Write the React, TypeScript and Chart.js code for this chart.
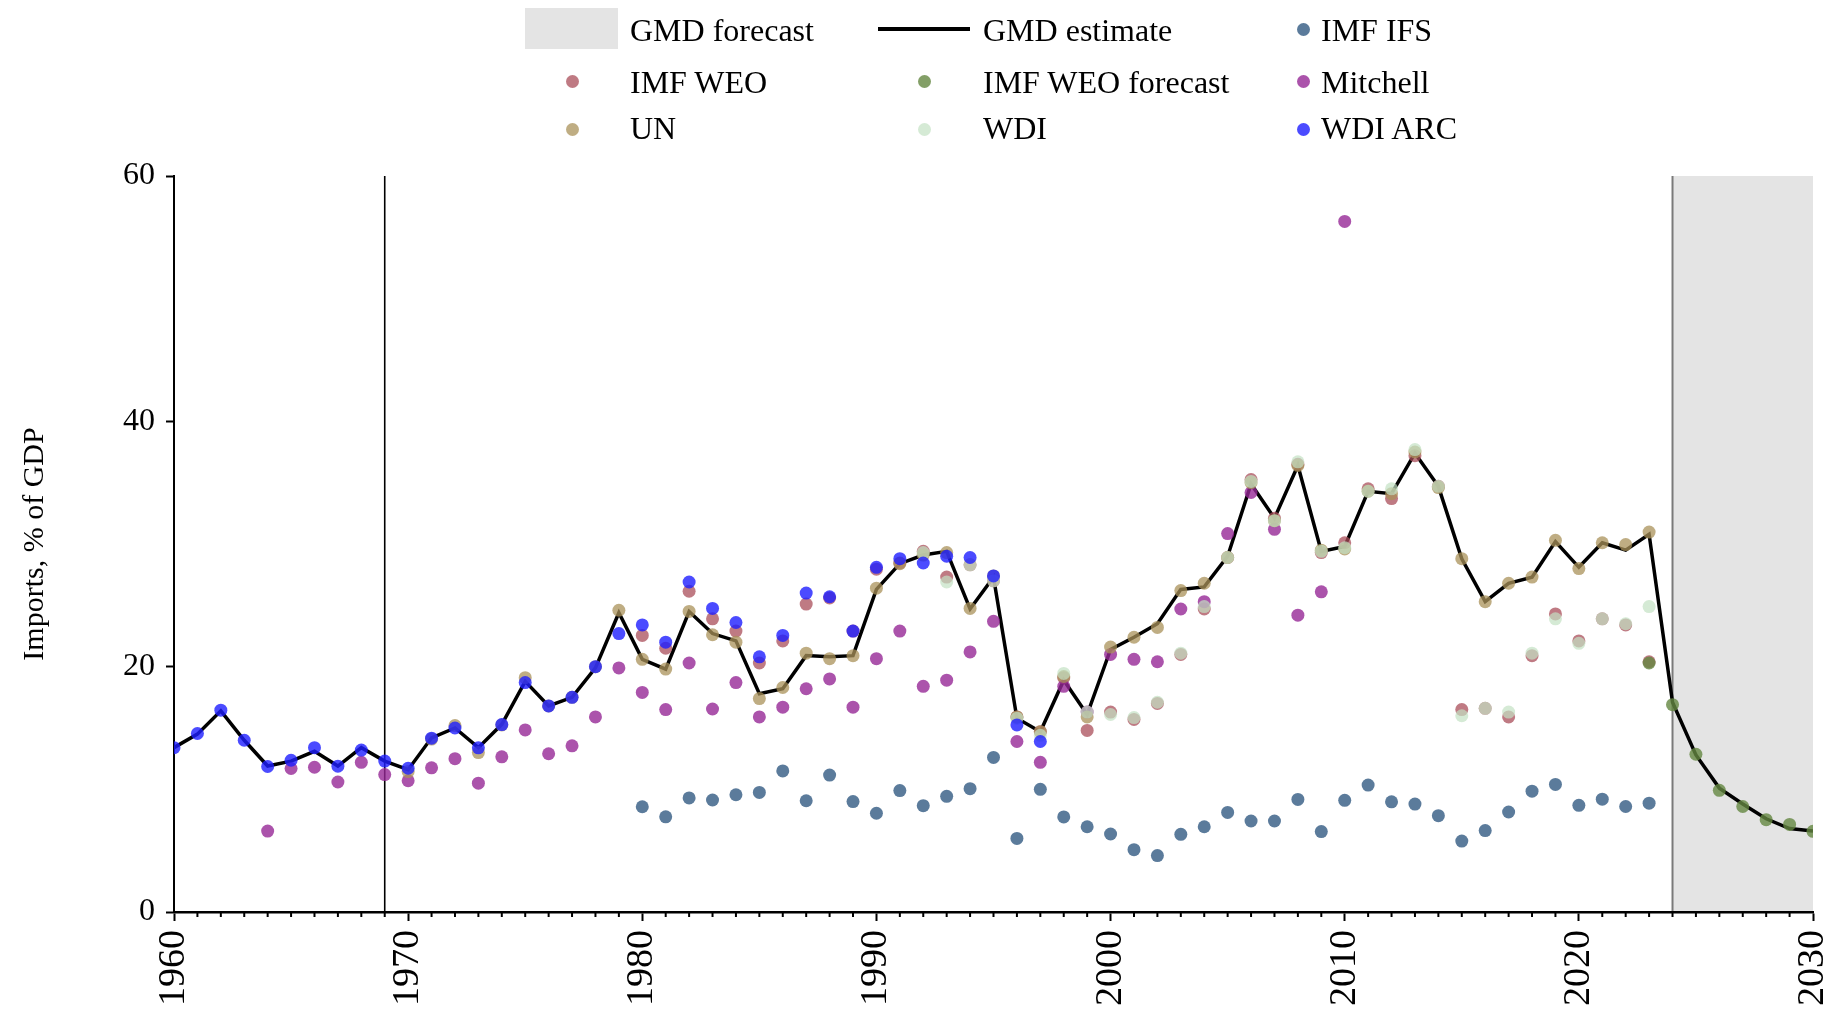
import React, { useEffect, useRef } from 'react';
import { Chart, registerables } from 'chart.js';

Chart.register(...registerables);

// ---------- data ----------
const X_MIN = 1960;
const X_MAX = 2030;
const FORECAST_START = 2024;
const MARK_YEAR = 1969;
const xTickLabels = ['1960', '1970', '1980', '1990', '2000', '2010', '2020', '2030'];
const yTickLabels = ['0', '20', '40', '60'];

const gmdStart = 1960;
const gmdEstimate = [
  13.4, 14.5, 16.4, 14.0, 11.9, 12.3, 13.1, 11.9, 13.4, 12.3,
  11.6, 14.2, 15.0, 13.4, 15.3, 18.8, 16.8, 17.5, 19.9, 24.4,
  20.6, 19.8, 24.5, 22.7, 22.1, 17.8, 18.2, 20.9, 20.8, 20.9,
  26.3, 28.4, 29.1, 29.4, 24.7, 27.3, 15.8, 14.7, 18.9, 16.1,
  21.4, 22.4, 23.5, 26.3, 26.5, 29.0, 34.9, 32.1, 36.4, 29.4,
  29.8, 34.3, 34.1, 37.4, 34.7, 28.8, 25.3, 26.8, 27.3, 30.2,
  28.1, 30.1, 29.5, 30.8, 17.1, 12.8, 10.1, 8.8, 7.6, 6.8,
  6.6,
];

const ifsStart = 1980;
const imfIfs = [
  8.58, 7.76, 9.3, 9.13, 9.56, 9.75, 11.5, 9.07, 11.16, 9.0,
  8.05, 9.9, 8.67, 9.43, 10.05, 12.6, 6.0, 10.0, 7.75, 6.95,
  6.36, 5.08, 4.6, 6.33, 6.95, 8.12, 7.42, 7.42, 9.18, 6.56,
  9.1, 10.35, 8.98, 8.8, 7.85, 5.78, 6.64, 8.15, 9.85, 10.4,
  8.7, 9.2, 8.6, 8.87,
];

const weoStart = 1980;
const imfWeo = [
  22.55, 21.5, 26.15, 23.9, 22.9, 20.3, 22.1, 25.1, 25.6, 22.9,
  27.95, 28.45, 29.4, 27.3, 28.3, 27.0, 15.9, 14.7, 19.1, 14.8,
  16.3, 15.7, 17.0, 21.0, 24.7, 28.9, 35.26, 32.1, 36.5, 29.3,
  30.1, 34.5, 33.7, 37.2, 34.7, 16.5, 16.6, 15.9, 20.9, 24.3,
  22.1, 23.9, 23.4, 20.4,
];

const weoForecastStart = 2023;
const imfWeoForecast = [20.3, 16.9, 12.86, 9.92, 8.6, 7.53, 7.14, 6.58];

const mitchellStart = 1964;
const mitchell = [
  6.6, 11.7, 11.8, 10.6, 12.2, 11.2, 10.7, 11.75, 12.5, 10.5,
  12.65, 14.84, 12.9, 13.55, 15.9, 19.9, 17.9, 16.5, 20.3, 16.55,
  18.7, 15.9, 16.7, 18.2, 19.0, 16.7, 20.65, 22.9, 18.4, 18.9,
  21.2, 23.7, 13.9, 12.2, 18.4, 16.3, 21.0, 20.6, 20.4, 24.7,
  25.3, 30.85, 34.2, 31.2, 24.2, 26.1, 56.3,
];

const unStart = 1970;
const un = [
  11.45, 14.1, 15.2, 13.0, 15.25, 19.1, 16.8, 17.5, 20.0, 24.6,
  20.6, 19.8, 24.5, 22.6, 22.0, 17.4, 18.3, 21.1, 20.65, 20.9,
  26.4, 28.4, 29.1, 29.3, 24.75, 27.4, 15.9, 14.7, 19.2, 15.9,
  21.6, 22.4, 23.2, 26.2, 26.8, 28.9, 35.0, 31.9, 36.4, 29.5,
  29.6, 34.3, 34.1, 37.5, 34.6, 28.8, 25.3, 26.8, 27.3, 30.3,
  28.0, 30.1, 29.95, 30.97,
];

const wdiStart = 1992;
const wdi = [
  29.3, 26.9, 28.3, 27.0, 15.8, 14.4, 19.45, 16.3, 16.1, 15.85,
  17.1, 21.1, 24.9, 28.9, 35.1, 31.9, 36.7, 29.4, 29.7, 34.3,
  34.5, 37.7, 34.7, 16.0, 16.6, 16.3, 21.1, 23.9, 21.9, 23.9,
  23.5, 24.9,
];

const wdiArcStart = 1960;
const wdiArc = [
  13.4, 14.55, 16.45, 14.0, 11.86, 12.37, 13.4, 11.89, 13.2, 12.3,
  11.72, 14.17, 15.0, 13.38, 15.28, 18.7, 16.8, 17.5, 20.0, 22.7,
  23.4, 22.0, 26.9, 24.75, 23.6, 20.8, 22.55, 26.0, 25.7, 22.9,
  28.1, 28.8, 28.45, 29.0, 28.9, 27.4, 15.25, 13.9,
];

// ---------- styles ----------
const C_IFS = 'rgba(62,100,138,0.85)';
const C_WEO = 'rgba(170,78,90,0.75)';
const C_WEOF = 'rgba(100,135,65,0.8)';
const C_MITCHELL = 'rgba(150,40,150,0.8)';
const C_UN = 'rgba(170,145,90,0.75)';
const C_WDI = 'rgba(195,225,195,0.7)';
const C_WDIARC = 'rgba(30,30,255,0.8)';
const SERIF = "'Liberation Serif', 'Times New Roman', serif";

const toPoints = (start: number, vals: number[]) =>
  vals.map((v, i) => ({ x: start + i, y: v }));

const bgPlugin = {
  id: 'bgPlugin',
  beforeDraw(chart: any) {
    const { ctx, chartArea, scales } = chart;
    const x = scales.x;
    const xf = x.getPixelForValue(FORECAST_START);
    const xe = x.getPixelForValue(X_MAX);
    ctx.save();
    ctx.fillStyle = '#e4e4e4';
    ctx.fillRect(xf, chartArea.top, xe - xf, chartArea.bottom - chartArea.top);
    ctx.strokeStyle = '#7a7a7a';
    ctx.lineWidth = 2;
    ctx.beginPath();
    ctx.moveTo(xf, chartArea.top);
    ctx.lineTo(xf, chartArea.bottom);
    ctx.stroke();
    const xm = x.getPixelForValue(MARK_YEAR);
    ctx.strokeStyle = '#000';
    ctx.lineWidth = 1.6;
    ctx.beginPath();
    ctx.moveTo(xm, chartArea.top);
    ctx.lineTo(xm, chartArea.bottom);
    ctx.stroke();
    ctx.restore();
  },
};

const minorTickPlugin = {
  id: 'minorTicks',
  afterDraw(chart: any) {
    const { ctx, chartArea, scales } = chart;
    const x = scales.x;
    ctx.save();
    ctx.strokeStyle = '#000';
    ctx.lineWidth = 2;
    for (let yr = X_MIN; yr <= X_MAX; yr++) {
      if (yr % 10 === 0) continue;
      const px = x.getPixelForValue(yr);
      ctx.beginPath();
      ctx.moveTo(px, chartArea.bottom);
      ctx.lineTo(px, chartArea.bottom + 5);
      ctx.stroke();
    }
    ctx.restore();
  },
};

const scatterDs = (label: string, data: any[], color: string, order: number) => ({
  type: 'scatter' as const,
  label,
  data,
  backgroundColor: color,
  borderColor: color,
  borderWidth: 0,
  pointRadius: 6.5,
  pointHoverRadius: 6.5,
  pointBorderWidth: 0,
  showLine: false,
  order,
});

type LegendItem = { label: string; kind: 'box' | 'line' | 'dot'; color: string; col: number; row: number };
const legendItems: LegendItem[] = [
  { label: 'GMD forecast', kind: 'box', color: '#e4e4e4', col: 0, row: 0 },
  { label: 'GMD estimate', kind: 'line', color: '#000', col: 1, row: 0 },
  { label: 'IMF IFS', kind: 'dot', color: C_IFS, col: 2, row: 0 },
  { label: 'IMF WEO', kind: 'dot', color: C_WEO, col: 0, row: 1 },
  { label: 'IMF WEO forecast', kind: 'dot', color: C_WEOF, col: 1, row: 1 },
  { label: 'Mitchell', kind: 'dot', color: C_MITCHELL, col: 2, row: 1 },
  { label: 'UN', kind: 'dot', color: C_UN, col: 0, row: 2 },
  { label: 'WDI', kind: 'dot', color: C_WDI, col: 1, row: 2 },
  { label: 'WDI ARC', kind: 'dot', color: C_WDIARC, col: 2, row: 2 },
];
const colDot = [572, 924, 1303];
const colText = [630, 983, 1321];
const rowBaseline = [40.7, 92.3, 139];
const rowCenter = [29, 81.5, 129];

export default function App() {
  const ref = useRef<HTMLCanvasElement | null>(null);

  useEffect(() => {
    if (!ref.current) return;
    const chart = new Chart(ref.current, {
      type: 'scatter',
      data: {
        datasets: [
          {
            type: 'line' as const,
            label: 'GMD estimate',
            data: toPoints(gmdStart, gmdEstimate),
            borderColor: '#000',
            backgroundColor: '#000',
            borderWidth: 3.5,
            pointRadius: 0,
            tension: 0,
            fill: false,
            order: 10,
          } as any,
          scatterDs('IMF IFS', toPoints(ifsStart, imfIfs), C_IFS, 8),
          scatterDs('IMF WEO', toPoints(weoStart, imfWeo), C_WEO, 7),
          scatterDs('IMF WEO forecast', toPoints(weoForecastStart, imfWeoForecast), C_WEOF, 6),
          scatterDs('Mitchell', toPoints(mitchellStart, mitchell), C_MITCHELL, 5),
          scatterDs('UN', toPoints(unStart, un), C_UN, 4),
          scatterDs('WDI', toPoints(wdiStart, wdi), C_WDI, 3),
          scatterDs('WDI ARC', toPoints(wdiArcStart, wdiArc), C_WDIARC, 2),
        ],
      },
      options: {
        responsive: false,
        devicePixelRatio: 1,
        animation: false,
        events: [],
        layout: { padding: { left: 0, right: 24, top: 176, bottom: 0 } },
        plugins: {
          legend: { display: false },
          tooltip: { enabled: false },
        },
        scales: {
          x: {
            type: 'linear',
            min: X_MIN,
            max: X_MAX,
            afterFit: (s: any) => {
              s.height = 105;
              s.paddingRight = 0;
              s.paddingLeft = 0;
            },
            ticks: {
              stepSize: 10,
              autoSkip: false,
              maxRotation: 90,
              minRotation: 90,
              padding: 9,
              color: '#000',
              font: { family: SERIF, size: 38 },
              callback: (v: any) => {
                const s = String(v);
                return xTickLabels.includes(s) ? s : '';
              },
            },
            grid: {
              drawOnChartArea: false,
              drawTicks: true,
              tickLength: 9,
              tickWidth: 2,
              tickColor: '#000',
              color: '#000',
            },
            border: { display: true, color: '#000', width: 2.5 },
          },
          y: {
            type: 'linear',
            min: 0,
            max: 60,
            afterFit: (s: any) => {
              s.width = 174;
              s.paddingTop = 0;
              s.paddingBottom = 0;
            },
            ticks: {
              stepSize: 20,
              padding: 11,
              color: '#000',
              font: { family: SERIF, size: 32 },
              callback: (v: any) => {
                const s = String(v);
                return yTickLabels.includes(s) ? s : '';
              },
            },
            grid: {
              drawOnChartArea: false,
              drawTicks: true,
              tickLength: 8,
              tickWidth: 2,
              tickColor: '#000',
              color: '#000',
            },
            border: { display: true, color: '#000', width: 2 },
            title: {
              display: true,
              text: 'Imports, % of GDP',
              color: '#000',
              font: { family: SERIF, size: 30 },
              padding: { top: 17, bottom: 0 },
            },
          },
        },
      },
      plugins: [bgPlugin, minorTickPlugin],
    } as any);
    return () => chart.destroy();
  }, []);

  return (
    <div style={{ position: 'absolute', left: 0, top: 0, width: 1837, height: 1017, background: '#fff', overflow: 'hidden' }}>
      <canvas ref={ref} width={1837} height={1017} style={{ display: 'block', position: 'absolute', left: 0, top: 0 }} />
      {legendItems.map((it) => {
        const cy = rowCenter[it.row];
        let marker: React.ReactNode = null;
        if (it.kind === 'box') {
          marker = <div style={{ position: 'absolute', left: 525, top: 8, width: 93, height: 41, background: it.color }} />;
        } else if (it.kind === 'line') {
          marker = <div style={{ position: 'absolute', left: 878, top: cy - 1.75, width: 92, height: 3.5, background: it.color }} />;
        } else {
          marker = (
            <div
              style={{
                position: 'absolute',
                left: colDot[it.col] - 6.5,
                top: cy - 6.5,
                width: 13,
                height: 13,
                borderRadius: '50%',
                background: it.color,
              }}
            />
          );
        }
        return (
          <React.Fragment key={it.label}>
            {marker}
            <div
              style={{
                position: 'absolute',
                left: colText[it.col],
                top: rowBaseline[it.row] - 26.8,
                fontFamily: SERIF,
                fontSize: 32,
                lineHeight: '32px',
                color: '#000',
                whiteSpace: 'nowrap',
              }}
            >
              {it.label}
            </div>
          </React.Fragment>
        );
      })}
    </div>
  );
}
